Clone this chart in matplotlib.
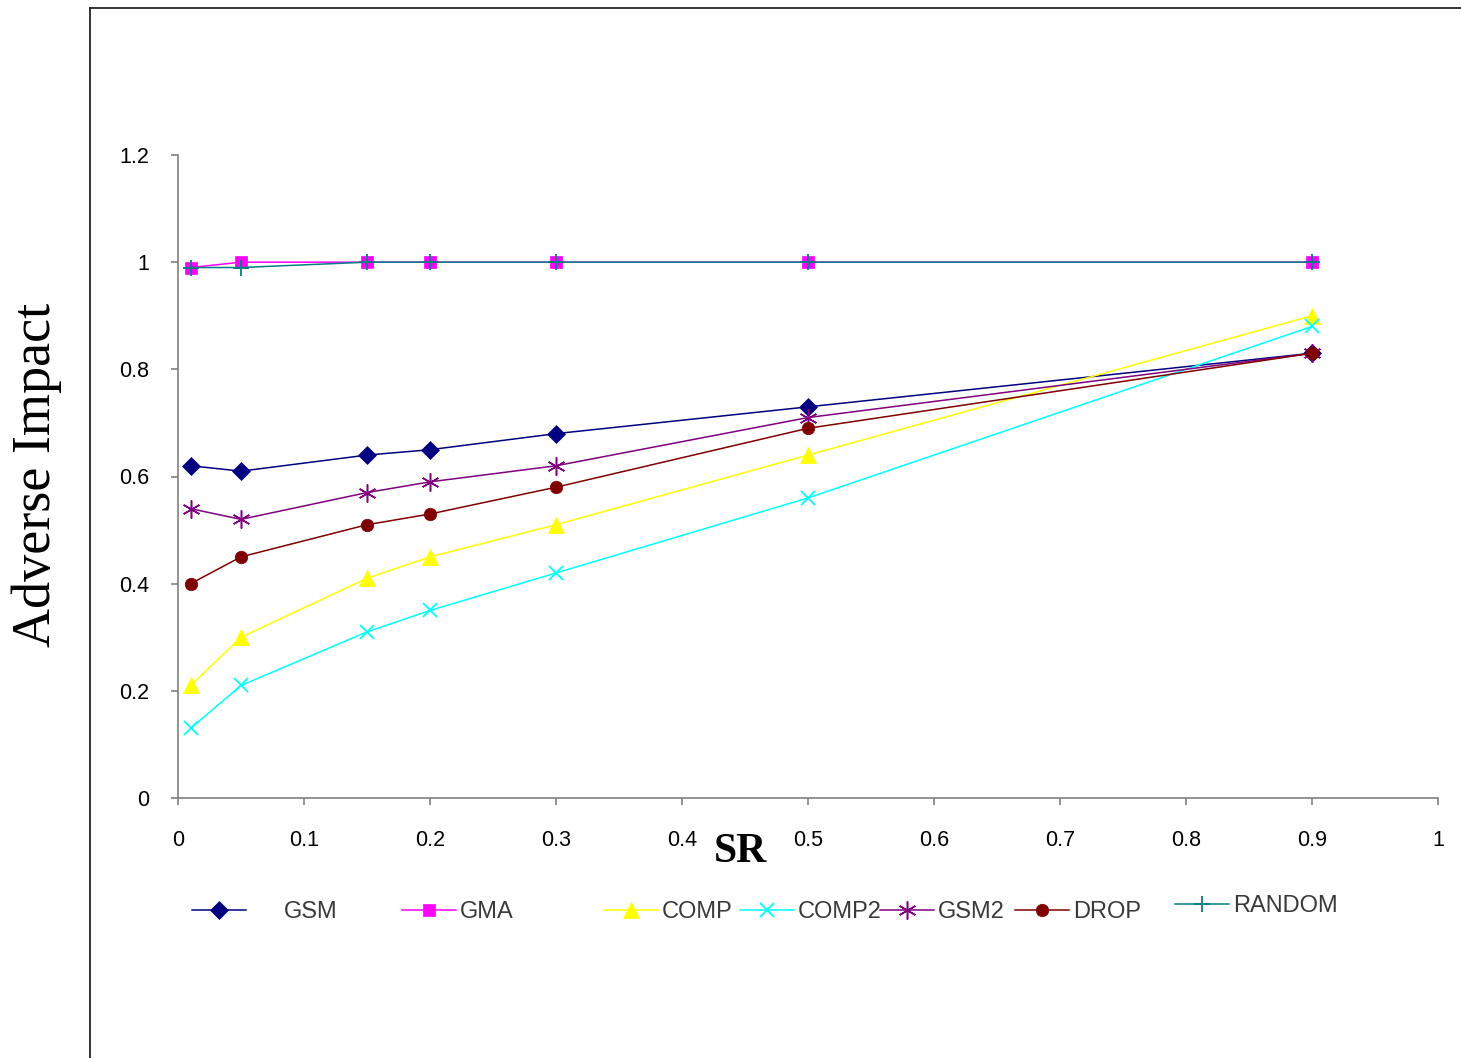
import numpy as np
import matplotlib
matplotlib.use("Agg")
from matplotlib import pyplot as plt
from matplotlib.lines import Line2D

sr = [0.01, 0.05, 0.15, 0.2, 0.3, 0.5, 0.9]

gsm = [0.62, 0.61, 0.64, 0.65, 0.68, 0.73, 0.83]
gma = [0.99, 1.0, 1.0, 1.0, 1.0, 1.0, 1.0]
comp = [0.21, 0.30, 0.41, 0.45, 0.51, 0.64, 0.90]
comp2 = [0.13, 0.21, 0.31, 0.35, 0.42, 0.56, 0.88]
gsm2 = [0.54, 0.52, 0.57, 0.59, 0.62, 0.71, 0.83]
drop = [0.40, 0.45, 0.51, 0.53, 0.58, 0.69, 0.83]
random_sel = [0.99, 0.99, 1.0, 1.0, 1.0, 1.0, 1.0]

names = ["GSM", "GMA", "COMP", "COMP2", "GSM2", "DROP", "RANDOM"]
series = [gsm, gma, comp, comp2, gsm2, drop, random_sel]

# style per series: colour, marker, marker size
styles = [("#000080", "D", 9),
          ("#FF00FF", "s", 9),
          ("#FFFF00", "^", 11),
          ("#00FFFF", "x", 10),
          ("#800080", "*", 0),
          ("#800000", "o", 9),
          ("#008080", "+", 11)]

W, H = 1461, 1058
fig = plt.figure(figsize=(W / 100, H / 100), dpi=100)
ax = fig.add_axes([178 / W, 1 - 798 / H, 1260 / W, 643 / H])

handles = []
for vals, name, (col, mk, ms) in zip(series, names, styles):
  if name == "GSM2":
    # asterisk: x plus vertical bar
    h, = ax.plot(sr, vals, "-", color=col, lw=1.1, marker=(6, 2, 0), ms=13, mew=1.1)
  else:
    h, = ax.plot(sr, vals, "-", color=col, lw=1.1, marker=mk, ms=ms,
                 mew=1.3 if mk in "x+" else 0.5, mec=col, mfc=col)
  h.set_clip_on(False)
  handles.append(h)

ax.set_xlim(0, 1)
ax.set_ylim(0, 1.2)
ax.set_xticks(np.arange(0, 1.01, 0.1))
ax.set_xticklabels(["0", "0.1", "0.2", "0.3", "0.4", "0.5", "0.6", "0.7", "0.8", "0.9", "1"])
ax.set_yticks(np.arange(0, 1.21, 0.2))
ax.set_yticklabels(["0", "0.2", "0.4", "0.6", "0.8", "1", "1.2"])
for s in ["top", "right"]:
  ax.spines[s].set_visible(False)
for s in ["left", "bottom"]:
  ax.spines[s].set_color("#808080")
  ax.spines[s].set_linewidth(1.2)
ax.tick_params(direction="out", length=5, width=1.2, color="#808080",
               labelsize=15.5, labelcolor="black")
ax.tick_params(axis="y", pad=16)
ax.tick_params(axis="x", pad=18)
for lab in ax.get_xticklabels() + ax.get_yticklabels():
  lab.set_family("Liberation Sans")

fig.text(37 / W, 1 - 475 / H, "Adverse Impact", rotation=90, ha="center", va="center",
         family="Liberation Serif", fontsize=39)
fig.text(740 / W, 1 - 852 / H, "SR", ha="center", va="center",
         family="Liberation Serif", fontsize=30, weight="bold")

# legend entries spread along the bottom like the original
leg_x = [192, 402, 604, 740, 880, 1015, 1175]
leg_y = [912, 912, 912, 912, 912, 912, 906]
leg_pad = [1.6, 0.15, 0.15, 0.15, 0.15, 0.15, 0.15]
for h, name, lx, ly, pad in zip(handles, names, leg_x, leg_y, leg_pad):
  lg = fig.legend(handles=[h], labels=[name], loc="center left",
                  bbox_to_anchor=(lx / W, 1 - ly / H), frameon=False,
                  borderpad=0, borderaxespad=0, handlelength=2.3, handletextpad=pad,
                  prop={"family": "Liberation Sans", "size": 17})
  for t in lg.get_texts():
    t.set_color("#3a3a3a")

# outer frame (left and top edges)
fig.add_artist(Line2D([90 / W, 90 / W], [0, 1 - 8 / H], color="#222222", lw=1.3))
fig.add_artist(Line2D([90 / W, 1], [1 - 8 / H, 1 - 8 / H], color="#222222", lw=1.3))

fig.savefig("out.png", dpi=100)
